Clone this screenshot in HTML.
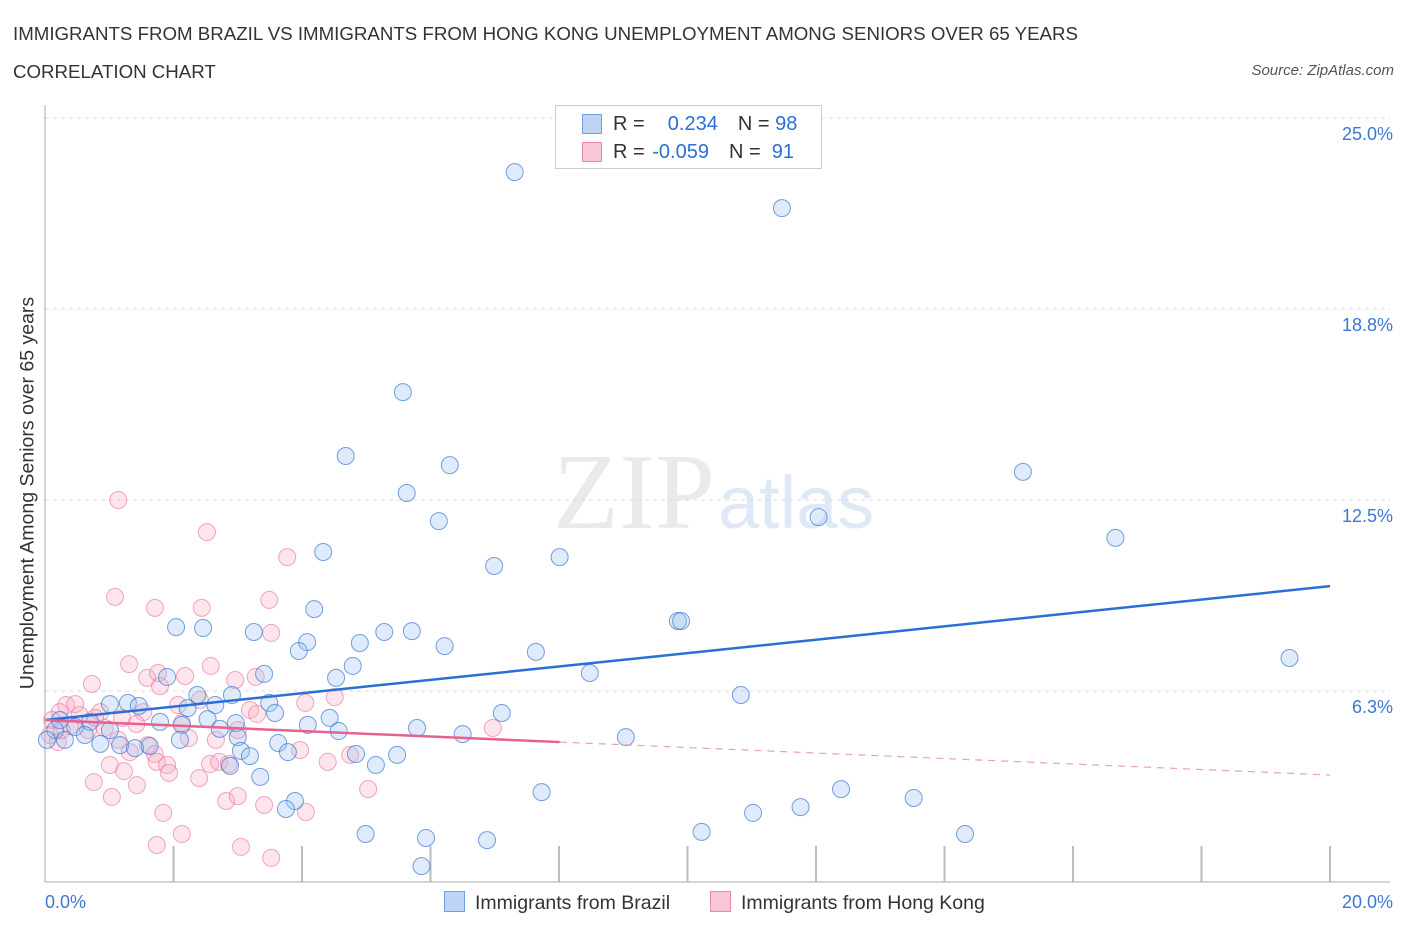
<!DOCTYPE html>
<html><head><meta charset="utf-8">
<style>
body{margin:0;background:#fff;font-family:"Liberation Sans",sans-serif;}
#wrap{position:relative;width:1406px;height:930px;overflow:hidden;}
.t{position:absolute;white-space:nowrap;}
</style></head><body>
<div id="wrap">
<div class="t" style="left:13px;top:23px;font-size:18.7px;color:#333;">IMMIGRANTS FROM BRAZIL VS IMMIGRANTS FROM HONG KONG UNEMPLOYMENT AMONG SENIORS OVER 65 YEARS</div>
<div class="t" style="left:13px;top:61px;font-size:18.7px;color:#333;">CORRELATION CHART</div>
<div class="t" style="right:12px;top:62px;font-size:15px;color:#555;font-style:italic;">Source: ZipAtlas.com</div>
<svg id="svg" width="1406" height="930" style="position:absolute;left:0;top:0"></svg>
</div>
<script>
const xTicksPct=[0,20];
const yTicks=[6.25,12.5,18.75,25];
const yTickLabels=["6.3%","12.5%","18.8%","25.0%"];
const brazilX=[7.31,11.47,5.57,4.68,6.30,5.63,6.13,15.22,12.04,16.66,4.33,8.01,6.99,4.19,2.04,2.46,3.25,4.08,3.95,4.90,5.28,5.71,6.22,7.64,9.85,9.90,19.37,4.79,3.41,1.90,4.53,8.48,10.83,1.01,1.29,1.46,2.37,2.91,3.49,2.22,2.65,3.58,2.53,2.97,2.13,4.43,4.09,7.11,5.79,4.57,6.50,9.04,2.72,3.00,3.63,3.78,3.05,3.19,4.84,5.48,5.15,2.88,3.35,7.73,12.39,13.52,11.76,11.02,3.89,3.75,4.99,5.93,6.88,10.22,14.32,5.86,0.16,0.31,0.47,0.70,0.86,1.17,1.63,1.40,1.79,2.10,0.23,0.62,1.01,0.03];
const brazilY=[23.23,22.05,16.03,13.94,13.64,12.73,11.81,13.42,11.94,11.26,10.80,10.63,10.34,8.93,8.34,8.31,8.18,7.85,7.56,7.82,8.18,8.21,7.72,7.53,8.54,8.54,7.33,7.07,6.81,6.71,6.68,6.84,6.12,5.82,5.86,5.76,6.12,6.12,5.86,5.69,5.79,5.53,5.33,5.20,5.14,5.37,5.14,5.53,5.04,4.94,4.84,4.74,5.01,4.74,4.55,4.25,4.29,4.12,4.19,4.16,3.83,3.80,3.44,2.94,3.04,2.75,2.45,2.26,2.65,2.39,1.57,1.44,1.37,1.64,1.57,0.52,4.97,4.65,5.07,5.24,4.52,4.48,4.45,4.38,5.24,4.65,5.30,4.81,4.97,4.65];
const hkX=[1.14,2.52,3.77,1.09,1.71,2.44,3.49,3.52,1.31,1.59,1.76,1.79,2.18,0.73,2.58,2.96,3.28,4.05,4.51,2.41,2.07,3.19,3.30,1.53,1.20,0.86,1.42,2.13,3.00,2.24,1.60,2.66,1.14,1.32,1.71,1.01,1.23,1.74,1.90,2.57,2.71,2.86,2.40,1.93,3.97,4.40,4.75,5.03,0.76,1.43,1.04,1.84,2.82,3.00,3.41,4.06,2.13,1.74,3.05,3.52,6.97,0.33,0.47,0.54,0.23,0.11,0.08,0.20,0.39,0.67,0.78,0.93,0.26];
const hkY=[12.50,11.45,10.63,9.33,8.97,8.97,9.23,8.15,7.13,6.68,6.84,6.41,6.74,6.48,7.07,6.61,6.71,5.86,6.05,5.96,5.79,5.63,5.50,5.56,5.37,5.56,5.17,5.20,4.97,4.71,4.48,4.65,4.65,4.25,4.19,3.83,3.63,3.93,3.83,3.86,3.93,3.86,3.40,3.57,4.32,3.93,4.16,3.04,3.27,3.17,2.78,2.26,2.65,2.81,2.52,2.29,1.57,1.21,1.15,0.79,5.04,5.79,5.82,5.46,5.56,5.30,4.81,4.58,5.10,4.97,5.37,5.04,4.97];
const brazilTrend=[5.30,9.68];
const hkTrend=[5.30,3.50];
const hkSolidEnd=8.01;

const X0=45,X1=1330,Y0=882,Y25=118;
const sx=v=>X0+(v/20)*(X1-X0);
const sy=v=>Y0-(v/25)*(Y0-Y25);
const svg=document.getElementById('svg');
const NS='http://www.w3.org/2000/svg';
function mk(tag,attrs,name){const e=document.createElementNS(NS,tag);for(const k in attrs)e.setAttribute(k,attrs[k]);


svg.appendChild(e);return e;}
yTicks.forEach((v,i)=>{
 mk('line',{x1:X0,x2:X1+60,y1:sy(v),y2:sy(v),stroke:'#ddd','stroke-dasharray':'4,4'},'y-gridline');
 const t=mk('text',{x:1393,y:sy(v)+22,'text-anchor':'end','font-size':18,fill:'#3a78d4','font-family':'Liberation Sans'},'y-tick-label');t.textContent=yTickLabels[i];
});
mk('line',{x1:X0,x2:X0,y1:105,y2:Y0,stroke:'#aaa'},'y-axis');
mk('line',{x1:X0,x2:X1+60,y1:Y0,y2:Y0,stroke:'#aaa'},'x-axis');
for(let i=1;i<=10;i++){const x=sx(i*2);mk('line',{x1:x,x2:x,y1:846,y2:Y0,stroke:'#bbb','stroke-width':2},'x-tick');}
xTicksPct.forEach(v=>{const t=mk('text',{x:v==0?45:1393,y:908,'text-anchor':v==0?'start':'end','font-size':18,fill:'#3a78d4','font-family':'Liberation Sans'},'x-tick-label');t.textContent=v.toFixed(1)+'%';});
let w=mk('text',{x:553,y:528,'font-size':108,fill:'#ddd','font-family':'Liberation Serif','opacity':0.6},'watermark');w.textContent='ZIP';
w=mk('text',{x:718,y:528,'font-size':74,fill:'#c9daf2','font-family':'Liberation Sans','opacity':0.6},'watermark');w.textContent='atlas';
hkX.forEach((v,i)=>mk('circle',{cx:sx(v),cy:sy(hkY[i]),r:8.5,fill:'rgba(248,170,195,0.3)',stroke:'rgba(235,120,155,0.65)','stroke-width':1},'hongkong-point'));
brazilX.forEach((v,i)=>mk('circle',{cx:sx(v),cy:sy(brazilY[i]),r:8.5,fill:'rgba(150,190,240,0.3)',stroke:'rgba(60,120,210,0.7)','stroke-width':1},'brazil-point'));
mk('line',{x1:sx(0),y1:sy(brazilTrend[0]),x2:sx(20),y2:sy(brazilTrend[1]),stroke:'#2a6fd6','stroke-width':2.5},'brazil-trendline');
const hy=x=>hkTrend[0]+(hkTrend[1]-hkTrend[0])*x/20;
mk('line',{x1:sx(0),y1:sy(hy(0)),x2:sx(hkSolidEnd),y2:sy(hy(hkSolidEnd)),stroke:'#e8608c','stroke-width':2.5},'hongkong-trendline');
mk('line',{x1:sx(hkSolidEnd),y1:sy(hy(hkSolidEnd)),x2:sx(20),y2:sy(hy(20)),stroke:'#e8a0b8','stroke-width':1.2,'stroke-dasharray':'7,6'},'hongkong-trendline-extension');
</script>
<div style="position:absolute;left:555px;top:105px;width:265px;height:62px;border:1px solid #ccc;background:#fff;font-size:20px;">
 <div style="position:absolute;left:26px;top:8px;width:18px;height:18px;background:#bcd4f5;border:1px solid #6f9fdf;"></div>
 <div class="t" style="left:57px;top:7px;color:#333">R = <span style="color:#2a6fd6;margin-left:12px">&nbsp;0.234</span><span style="margin-left:20px">N = </span><span style="color:#2a6fd6">98</span></div>
 <div style="position:absolute;left:26px;top:36px;width:18px;height:18px;background:#f9c6d6;border:1px solid #e98aa8;"></div>
 <div class="t" style="left:57px;top:35px;color:#333">R = <span style="color:#2a6fd6;margin-left:2px">-0.059</span><span style="margin-left:20px">N = </span><span style="color:#2a6fd6">&nbsp;91</span></div>
</div>
<div style="position:absolute;top:891px;left:444px;font-size:19.5px;color:#333;">
 <span style="position:absolute;left:0;top:0;white-space:nowrap"><span style="display:inline-block;width:19px;height:19px;background:#bcd4f5;border:1px solid #6f9fdf;vertical-align:-3px;margin-right:10px"></span>Immigrants from Brazil</span>
 <span style="position:absolute;left:266px;top:0;white-space:nowrap"><span style="display:inline-block;width:19px;height:19px;background:#f9c6d6;border:1px solid #e98aa8;vertical-align:-3px;margin-right:10px"></span>Immigrants from Hong Kong</span>
</div>
<div class="t" style="left:28px;top:493px;font-size:19.5px;color:#333;transform:translate(-50%,-50%) rotate(-90deg);">Unemployment Among Seniors over 65 years</div>
</body></html>
